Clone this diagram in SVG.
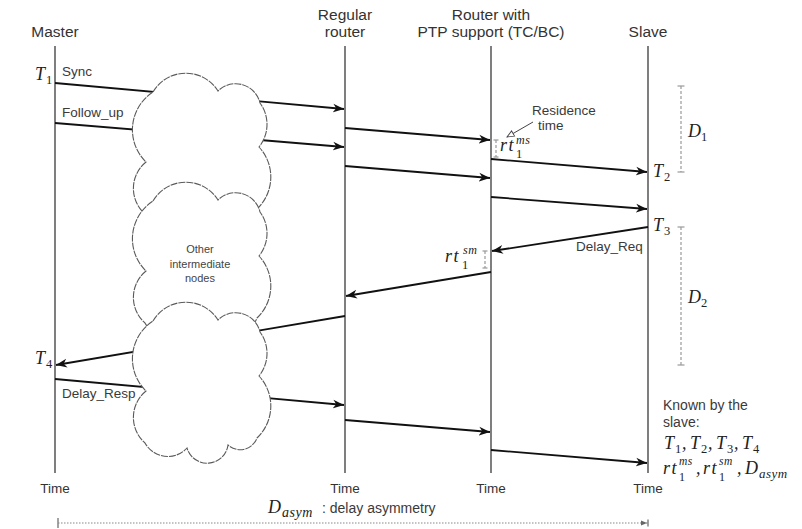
<svg xmlns="http://www.w3.org/2000/svg" width="802" height="529" viewBox="0 0 802 529">
  <style>
    .lbl{font-family:"Liberation Sans",Arial,sans-serif;font-size:15.5px;fill:#333;text-anchor:middle}
    .msg{font-family:"Liberation Sans",Arial,sans-serif;font-size:13.5px;fill:#3a3a3a}
    .time{font-family:"Liberation Sans",Arial,sans-serif;font-size:13.5px;fill:#333;text-anchor:middle}
    .small{font-family:"Liberation Sans",Arial,sans-serif;font-size:11px;fill:#444;text-anchor:middle}
    .math{font-family:"Liberation Serif","Times New Roman",serif;font-style:italic;font-size:18px;fill:#222}
    .rt{letter-spacing:1.5px}
    .idx{font-family:"Liberation Serif","Times New Roman",serif;font-style:normal;font-size:12.5px;fill:#222;letter-spacing:0}
    .sup{font-family:"Liberation Serif","Times New Roman",serif;font-style:italic;font-size:12px;fill:#222;letter-spacing:0.5px}
    .life{stroke:#3a3a3a;stroke-width:1.3;fill:none}
    .link{stroke:#111;stroke-width:1.8;fill:none;marker-end:url(#arr)}
    .cloud{fill:#fff;stroke:#5a5a5a;stroke-width:1.1;stroke-dasharray:7 1}
    .dim{stroke:#999;stroke-width:1.2;stroke-dasharray:3 2;fill:none}
    .cap{stroke:#999;stroke-width:1.2}
    .dot{stroke:#888;stroke-width:1.2;stroke-dasharray:1.5 1.5;fill:none}
  </style>
  <defs>
    <marker id="arr" markerUnits="userSpaceOnUse" markerWidth="12" markerHeight="10" refX="11" refY="5" orient="auto">
      <path d="M0,0.6 L11,5 L0,9.4 L3.2,5 Z" fill="#111"/>
    </marker>
    <marker id="open" markerUnits="userSpaceOnUse" markerWidth="9" markerHeight="8" refX="8" refY="4" orient="auto">
      <path d="M1,1 L8,4 L1,7 Z" fill="#fff" stroke="#444" stroke-width="0.9"/>
    </marker>
    <marker id="bar" markerUnits="userSpaceOnUse" markerWidth="8" markerHeight="8" refX="7" refY="4" orient="auto">
      <path d="M0,1.5 L6,4 L0,6.5 Z" fill="#666"/>
      <path d="M7,0.5 V7.5" stroke="#666" stroke-width="1.2"/>
    </marker>
    <!-- one cloud outline, x absolute, y measured from its highest point -->
    <path id="cloud" d="M153,18 A38,38 0 0 1 218,17 A25,25 0 0 1 260,29 A36,36 0 0 1 259,73 A44,44 0 0 1 257,135 A18,18 0 0 1 228,142 A21,21 0 0 1 187,145 A26,26 0 0 1 145,140 A34,34 0 0 1 146,88 A45,45 0 0 1 153,18 Z"/>
  </defs>

  <rect width="802" height="529" fill="#fff"/>

  <!-- lifelines -->
  <g id="master">
    <text class="lbl" x="55" y="37">Master</text>
    <line class="life" x1="55" y1="46" x2="55" y2="473"/>
    <text class="time" x="55" y="493">Time</text>
  </g>
  <g id="regular-router">
    <text class="lbl" x="345" y="20">Regular</text>
    <text class="lbl" x="345" y="37">router</text>
    <line class="life" x1="345" y1="46" x2="345" y2="473"/>
    <text class="time" x="345" y="493">Time</text>
  </g>
  <g id="ptp-router">
    <text class="lbl" x="491" y="20">Router with</text>
    <text class="lbl" x="491" y="37">PTP support (TC/BC)</text>
    <line class="life" x1="491" y1="46" x2="491" y2="473"/>
    <text class="time" x="491" y="493">Time</text>
  </g>
  <g id="slave">
    <text class="lbl" x="648" y="37">Slave</text>
    <line class="life" x1="648" y1="46" x2="648" y2="473"/>
    <text class="time" x="648" y="493">Time</text>
  </g>

  <!-- messages -->
  <g id="connectors">
    <line class="link" x1="55" y1="83" x2="344" y2="109"/>
    <line class="link" x1="55" y1="123" x2="344" y2="147"/>
    <line class="link" x1="345" y1="128" x2="490" y2="140"/>
    <line class="link" x1="345" y1="166" x2="490" y2="178"/>
    <line class="link" x1="491" y1="159" x2="647" y2="172"/>
    <line class="link" x1="491" y1="197" x2="647" y2="209"/>
    <line class="link" x1="648" y1="227" x2="492" y2="251"/>
    <line class="link" x1="491" y1="272" x2="346" y2="296"/>
    <line class="link" x1="345" y1="316" x2="56" y2="365"/>
    <line class="link" x1="55" y1="379" x2="344" y2="405"/>
    <line class="link" x1="345" y1="420" x2="490" y2="432"/>
    <line class="link" x1="491" y1="450" x2="647" y2="463"/>
  </g>

  <!-- intermediate network -->
  <g id="network">
    <use href="#cloud" class="cloud" y="74"/>
    <use href="#cloud" class="cloud" y="183"/>
    <use href="#cloud" class="cloud" y="303"/>
    <text class="small" x="200" y="253">Other</text>
    <text class="small" x="200" y="268">intermediate</text>
    <text class="small" x="200" y="282">nodes</text>
  </g>

  <!-- message labels and timestamps -->
  <g id="labels">
    <text class="msg" x="62" y="76">Sync</text>
    <text class="msg" x="62" y="117">Follow_up</text>
    <text class="msg" x="576" y="251">Delay_Req</text>
    <text class="msg" x="62" y="398">Delay_Resp</text>

    <text class="math" x="35" y="80">T</text><text class="idx" x="46" y="84">1</text>
    <text class="math" x="35" y="364">T</text><text class="idx" x="46" y="368">4</text>
    <text class="math" x="653" y="177">T</text><text class="idx" x="664" y="181">2</text>
    <text class="math" x="653" y="231">T</text><text class="idx" x="664" y="235">3</text>
  </g>

  <!-- residence times -->
  <g id="residence">
    <text class="msg" x="532" y="115">Residence</text>
    <text class="msg" x="538" y="130">time</text>
    <line x1="533" y1="122" x2="507" y2="137" stroke="#444" stroke-width="1" marker-end="url(#open)"/>
    <line class="dim" x1="496" y1="140" x2="496" y2="157"/>
    <line class="cap" x1="493.5" y1="140" x2="498.5" y2="140"/>
    <line class="cap" x1="493.5" y1="157" x2="498.5" y2="157"/>
    <text class="math rt" x="500" y="151">rt</text>
    <text class="sup" x="516" y="144">ms</text>
    <text class="idx" x="516" y="158">1</text>

    <line class="dim" x1="485" y1="251" x2="485" y2="268"/>
    <line class="cap" x1="482.5" y1="251" x2="487.5" y2="251"/>
    <line class="cap" x1="482.5" y1="268" x2="487.5" y2="268"/>
    <text class="math rt" x="445" y="262">rt</text>
    <text class="sup" x="463" y="254">sm</text>
    <text class="idx" x="462" y="269">1</text>
  </g>

  <!-- one-way delays -->
  <g id="delays">
    <line class="dim" x1="681" y1="86" x2="681" y2="172"/>
    <line class="cap" x1="677.5" y1="86" x2="684.5" y2="86"/>
    <line class="cap" x1="677.5" y1="172" x2="684.5" y2="172"/>
    <text class="math" x="688" y="137">D</text><text class="idx" x="701" y="141">1</text>

    <line class="dim" x1="681" y1="227" x2="681" y2="365"/>
    <line class="cap" x1="677.5" y1="227" x2="684.5" y2="227"/>
    <line class="cap" x1="677.5" y1="365" x2="684.5" y2="365"/>
    <text class="math" x="688" y="303">D</text><text class="idx" x="701" y="307">2</text>
  </g>

  <!-- values known by the slave -->
  <g id="known">
    <text class="msg" x="663" y="410" style="font-size:14px">Known by the</text>
    <text class="msg" x="663" y="427" style="font-size:14px">slave:</text>
    <text class="math" y="449">
      <tspan x="664">T</tspan><tspan class="idx" x="675" y="453">1</tspan><tspan x="682" y="449">,</tspan>
      <tspan x="690">T</tspan><tspan class="idx" x="701" y="453">2</tspan><tspan x="708" y="449">,</tspan>
      <tspan x="716">T</tspan><tspan class="idx" x="727" y="453">3</tspan><tspan x="734" y="449">,</tspan>
      <tspan x="742">T</tspan><tspan class="idx" x="753" y="453">4</tspan>
    </text>
    <text class="math" y="474">
      <tspan class="rt" x="663">rt</tspan><tspan class="sup" x="679" y="465" style="font-size:11.5px">ms</tspan><tspan class="idx" x="679" y="481" style="font-size:12px">1</tspan><tspan x="696" y="474">,</tspan>
      <tspan class="rt" x="703">rt</tspan><tspan class="sup" x="719" y="465" style="font-size:11.5px">sm</tspan><tspan class="idx" x="719" y="481" style="font-size:12px">1</tspan><tspan x="737" y="474">,</tspan>
      <tspan x="745">D</tspan><tspan class="sup" x="759" y="478" style="font-size:13px">asym</tspan>
    </text>
  </g>

  <!-- delay asymmetry span -->
  <g id="asymmetry">
    <text class="math" x="268" y="513">D</text>
    <text class="sup" x="282" y="517" style="font-size:14px">asym</text>
    <text class="msg" x="322" y="513" style="font-size:14px">: delay asymmetry</text>
    <line class="cap" x1="58" y1="518" x2="58" y2="528" style="stroke:#666"/>
    <line class="dot" x1="58" y1="523" x2="648" y2="523" marker-end="url(#bar)"/>
  </g>
</svg>
